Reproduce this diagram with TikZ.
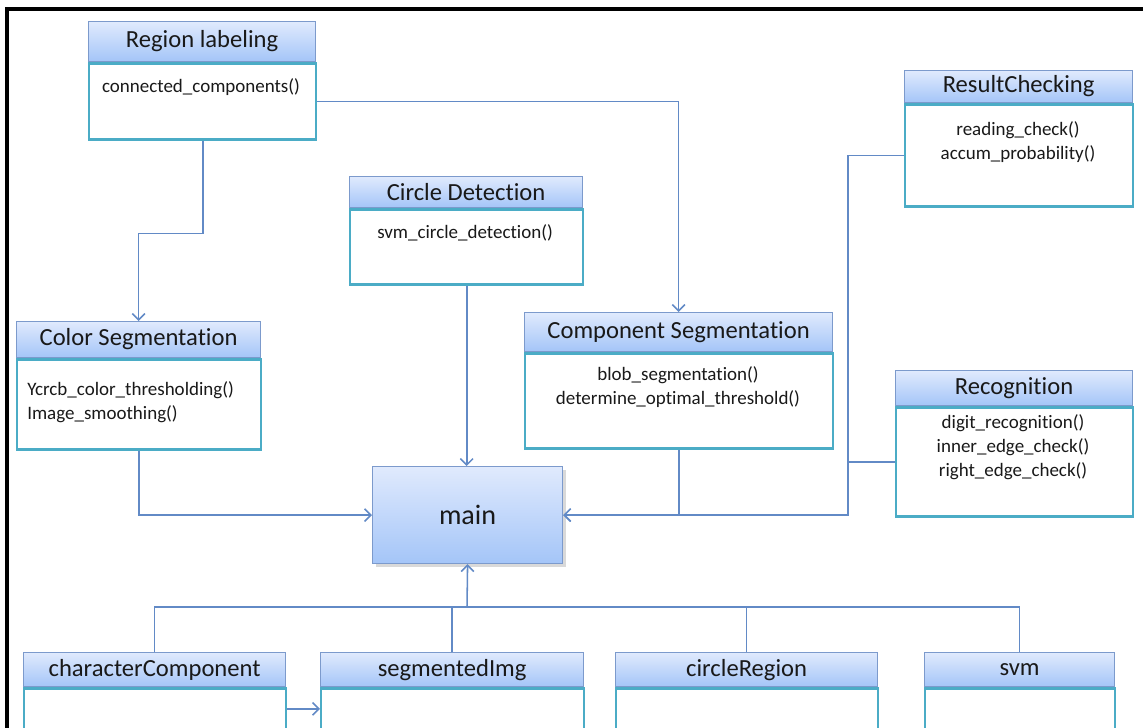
\documentclass[tikz,border=0pt]{standalone}
\usepackage{fontspec}
\setmainfont[Ligatures=NoCommon]{Carlito}
\usepackage{tikz}
\usetikzlibrary{arrows.meta,shadows}
\usepackage{xcolor}
\definecolor{hdtop}{RGB}{224,234,253}
\definecolor{hdbot}{RGB}{164,197,248}
\definecolor{hdline}{RGB}{124,154,204}
\definecolor{bodyline}{RGB}{75,172,198}
\definecolor{linkblue}{RGB}{98,138,198}
\definecolor{txtdark}{RGB}{25,25,25}
\tikzstyle{arrow} = [line width=1.1pt,-{Straight Barb[length=4.5pt,width=9pt]},color=linkblue]
\tikzstyle{link} = [line width=1.1pt,color=linkblue]
\tikzstyle{classhead} = [rectangle, anchor=north west, inner sep=0pt, draw=hdline, line width=0.8pt, top color=hdtop, bottom color=hdbot, text=txtdark, font=\fontsize{17.5}{21}\selectfont]
\tikzstyle{classbody} = [rectangle, anchor=north west, inner sep=0pt, draw=bodyline, line width=1.7pt, fill=white]
\tikzstyle{ops} = [inner sep=0pt, text=txtdark, font=\fontsize{13.5}{17}\selectfont]

\begin{document}
\begin{tikzpicture}[x=0.025cm, y=-0.025cm]
\useasboundingbox (0,0) rectangle (1143,728);
% frame
\draw[line width=2.2pt] (7,740) -- (7,9) -- (1150,9);

% Region labeling
\node[classhead, minimum width=5.675cm, minimum height=1cm] (regionH) at (88,21) {Region labeling};
\node[classbody, minimum width=5.675cm, minimum height=1.9cm] (regionB) at (regionH.south west) {};
\node[ops] (regionF) at (201,87) {connected\_components()};

% Color Segmentation
\node[classhead, minimum width=6.1cm, minimum height=0.9cm] (colorH) at (16,321) {Color Segmentation};
\node[classbody, minimum width=6.1cm, minimum height=2.25cm] (colorB) at (colorH.south west) {};
\node[ops, anchor=west, align=left] (colorF) at (27,402) {Ycrcb\_color\_thresholding()\\Image\_smoothing()};

% Circle Detection
\node[classhead, minimum width=5.825cm, minimum height=0.775cm] (circleH) at (349,176) {Circle Detection};
\node[classbody, minimum width=5.825cm, minimum height=1.875cm] (circleB) at (circleH.south west) {};
\node[ops] (circleF) at (465,233) {svm\_circle\_detection()};

% Component Segmentation
\node[classhead, minimum width=7.7cm, minimum height=0.975cm] (compH) at (524,312) {Component Segmentation};
\node[classbody, minimum width=7.7cm, minimum height=2.375cm] (compB) at (compH.south west) {};
\node[ops, align=center] (compF) at (678,387) {blob\_segmentation()\\determine\_optimal\_threshold()};

% ResultChecking
\node[classhead, minimum width=5.7cm, minimum height=0.8cm] (resultH) at (904,70) {ResultChecking};
\node[classbody, minimum width=5.7cm, minimum height=2.55cm] (resultB) at (resultH.south west) {};
\node[ops, align=center] (resultF) at (1018,142) {reading\_check()\\accum\_probability()};

% Recognition
\node[classhead, minimum width=5.925cm, minimum height=0.875cm] (recogH) at (895,370) {Recognition};
\node[classbody, minimum width=5.925cm, minimum height=2.725cm] (recogB) at (recogH.south west) {};
\node[ops, align=center] (recogF) at (1013,447) {digit\_recognition()\\inner\_edge\_check()\\right\_edge\_check()};

% main
\node[rectangle, anchor=north west, draw=hdline, line width=0.8pt, top color=hdtop, bottom color=hdbot, drop shadow={opacity=0.3}, minimum width=4.75cm, minimum height=2.425cm, text=txtdark, font=\fontsize{20}{24}\selectfont] (main) at (372,466) {main};

% data classes
\node[classhead, minimum width=6.55cm, minimum height=0.85cm] (charH) at (23,652) {characterComponent};
\node[classbody, minimum width=6.55cm, minimum height=1.025cm] (charB) at (charH.south west) {};
\node[classhead, minimum width=6.575cm, minimum height=0.85cm] (segH) at (320,652) {segmentedImg};
\node[classbody, minimum width=6.575cm, minimum height=1.025cm] (segB) at (segH.south west) {};
\node[classhead, minimum width=6.55cm, minimum height=0.85cm] (circRH) at (615,652) {circleRegion};
\node[classbody, minimum width=6.55cm, minimum height=1.025cm] (circRB) at (circRH.south west) {};
\node[classhead, minimum width=4.75cm, minimum height=0.85cm] (svmH) at (924,652) {svm};
\node[classbody, minimum width=4.75cm, minimum height=1.025cm] (svmB) at (svmH.south west) {};

% connectors
\draw[arrow] (regionB.south) -- ++(0,93) -| (colorH.north);
\draw[arrow] (regionB.east) -| (compH.north);
\draw[arrow] (colorB.south) |- (main.west);
\draw[arrow] (circleB.south) -- (circleB.south |- main.north);
\draw[arrow] (compB.south) |- (main.east);
\draw[arrow] (resultB.west) -- ++(-56,0) |- (main.east);
\draw[link] (recogB.west) -- ++(-47,0);

% bus to main
\coordinate (bus) at (467,607);
\draw[link] (charH.north) -- ++(0,-45) -| (svmH.north);
\draw[link] (segH.north) -- ++(0,-45);
\draw[link] (circRH.north) -- ++(0,-45);
\draw[arrow] (bus) -- (main.south);
\draw[arrow] (charB.east) -- (segB.west);
\end{tikzpicture}
\end{document}
